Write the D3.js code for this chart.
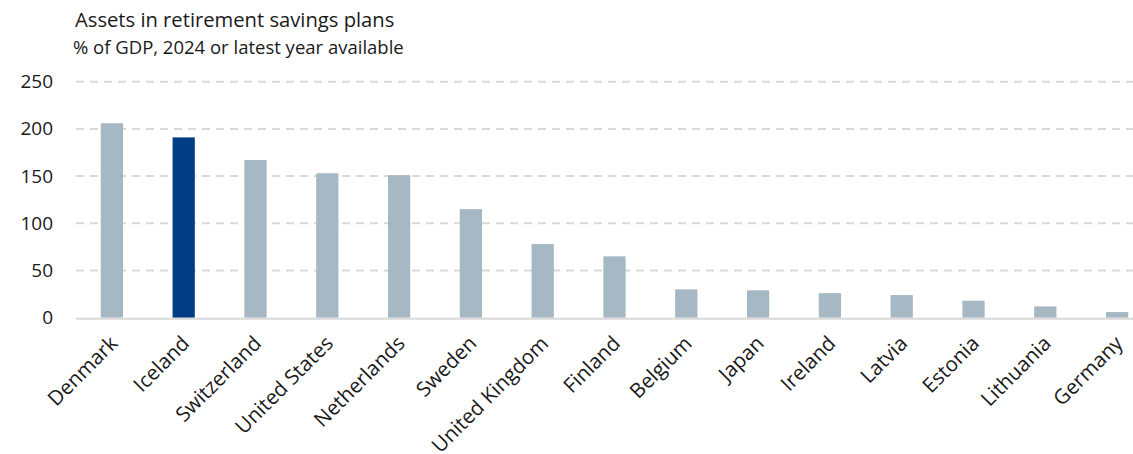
<!DOCTYPE html>
<html>
<head>
<meta charset="utf-8">
<script src="https://cdn.jsdelivr.net/npm/d3@7"></script>
<style>
  html, body { margin: 0; padding: 0; background: #fff; }
  svg { display: block; font-family: "Open Sans", "Noto Sans", sans-serif; }
</style>
</head>
<body>
<svg id="chart" width="1133" height="454"></svg>
<script>
// Assets in retirement savings plans, % of GDP
const countries = ["Denmark", "Iceland", "Switzerland", "United States", "Netherlands",
  "Sweden", "United Kingdom", "Finland", "Belgium", "Japan", "Ireland", "Latvia",
  "Estonia", "Lithuania", "Germany"];
const assetsPctGdp = [206, 191, 167, 153, 151, 115, 78, 65, 30, 29, 26, 24, 18, 12, 6];
const highlighted = ["Iceland"];
const yTicks = [0, 50, 100, 150, 200, 250];

const title = "Assets in retirement savings plans";
const subtitle = "% of GDP, 2024 or latest year available";

const svg = d3.select("#chart");
const textColor = "#1a1a1a";

const x = d3.scaleBand()
  .domain(countries)
  .range([76, 1153])
  .paddingInner(0.69)
  .paddingOuter(0.345);

const y = d3.scaleLinear()
  .domain([0, 250])
  .range([317.7, 81.7]);

// Title block
svg.append("text")
  .attr("x", 75).attr("y", 27)
  .attr("font-size", 20.2).attr("fill", textColor)
  .text(title);
svg.append("text")
  .attr("x", 73).attr("y", 54)
  .attr("font-size", 18.5).attr("fill", textColor)
  .text(subtitle);

// Dashed horizontal gridlines
svg.append("g")
  .selectAll("line")
  .data(yTicks.filter(d => d > 0))
  .join("line")
  .attr("x1", 76).attr("x2", 1153)
  .attr("y1", d => y(d)).attr("y2", d => y(d))
  .attr("stroke", "#d9d9d9")
  .attr("stroke-width", 2)
  .attr("stroke-dasharray", "8,6");

// Y axis labels
const yAxis = d3.axisLeft(y).tickValues(yTicks).tickSize(0).tickPadding(0);
const gy = svg.append("g").attr("transform", "translate(53,0)").call(yAxis);
gy.select(".domain").remove();
gy.selectAll("text")
  .attr("font-family", "'Open Sans', sans-serif")
  .attr("font-size", 19)
  .attr("fill", textColor);

// Bars
svg.append("g")
  .selectAll("rect")
  .data(countries.map((c, i) => ({ country: c, value: assetsPctGdp[i] })))
  .join("rect")
  .attr("x", d => x(d.country))
  .attr("width", x.bandwidth())
  .attr("y", d => y(d.value))
  .attr("height", d => y(0) - y(d.value))
  .attr("fill", d => highlighted.includes(d.country) ? "#003d82" : "#a6b8c3");

// Baseline
svg.append("line")
  .attr("x1", 76).attr("x2", 1153)
  .attr("y1", y(0) + 1).attr("y2", y(0) + 1)
  .attr("stroke", "#d9d9d9")
  .attr("stroke-width", 2);

// X axis labels, rotated
const xAxis = d3.axisBottom(x).tickSize(0).tickPadding(0);
const gx = svg.append("g").attr("transform", `translate(0,${y(0)})`).call(xAxis);
gx.select(".domain").remove();
gx.selectAll("text")
  .attr("font-family", "'Open Sans', sans-serif")
  .attr("font-size", 20.5)
  .attr("fill", textColor)
  .attr("text-anchor", "end")
  .attr("dy", null)
  .attr("y", 0)
  .attr("transform", "translate(7,27) rotate(-45)");
</script>
</body>
</html>
